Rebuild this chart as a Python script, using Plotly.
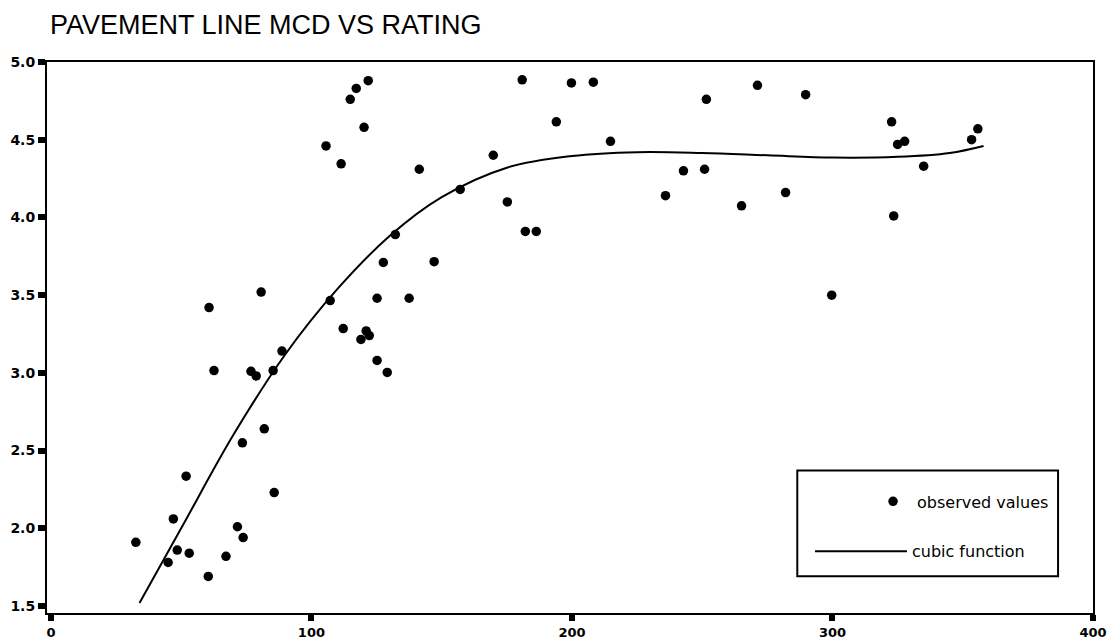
import plotly.graph_objects as go

# Observed pavement line MCD readings and their ratings
mcd = [32.6, 45.0, 47.0, 48.5, 53.1, 51.9, 60.4, 67.2, 71.6, 73.8, 73.5, 81.9, 85.7,
       60.7, 80.7, 62.6, 76.8, 78.8, 85.3, 88.7,
       107.2, 112.2, 121.0, 122.2, 119.0, 125.2, 129.1, 125.2, 127.6, 132.2, 147.1, 137.5,
       121.8, 117.2, 114.9, 120.2, 105.6, 111.4, 141.4, 180.9, 169.8, 157.1, 175.2, 182.1, 186.3,
       194.0, 199.8, 208.2, 214.8, 251.6, 242.8, 250.9, 235.9, 271.2, 265.1, 289.7, 282.0, 299.7,
       322.7, 325.0, 327.7, 323.5, 335.0, 355.8, 353.4]
rating = [1.91, 1.78, 2.06, 1.86, 1.84, 2.335, 1.69, 1.82, 2.01, 1.94, 2.55, 2.64, 2.23,
          3.42, 3.52, 3.015, 3.01, 2.98, 3.015, 3.14,
          3.465, 3.285, 3.27, 3.24, 3.215, 3.08, 3.003, 3.48, 3.71, 3.89, 3.715, 3.48,
          4.88, 4.83, 4.76, 4.58, 4.46, 4.345, 4.31, 4.885, 4.40, 4.18, 4.10, 3.91, 3.91,
          4.615, 4.865, 4.87, 4.49, 4.76, 4.30, 4.31, 4.14, 4.85, 4.075, 4.79, 4.16, 3.50,
          4.615, 4.47, 4.49, 4.01, 4.33, 4.57, 4.50]

# Fitted cubic curve, sampled along its length
fit_mcd = [34, 50, 70, 90, 110, 130, 150, 175, 200, 225, 250, 275, 300, 325, 345, 358]
fit_rating = [1.52, 2.00, 2.60, 3.12, 3.54, 3.88, 4.13, 4.32, 4.395, 4.42, 4.415, 4.40,
              4.385, 4.39, 4.415, 4.46]

x_ticks = [0, 100, 200, 300, 400]
y_ticks = [1.5, 2.0, 2.5, 3.0, 3.5, 4.0, 4.5, 5.0]

legend_font = dict(family="DejaVu Sans", size=16, color="black")

fig = go.Figure()

fig.add_trace(go.Scatter(
    x=fit_mcd, y=fit_rating, mode="lines", name="cubic function",
    line=dict(color="black", width=2, shape="spline", smoothing=1.0),
    legend="legend",
))
fig.add_trace(go.Scatter(
    x=mcd, y=rating, mode="markers", name="observed values",
    marker=dict(color="black", size=9.5, symbol="circle"),
    legend="legend2",
))

axis_common = dict(
    showline=True, linecolor="black", linewidth=2, mirror=True,
    showgrid=False, zeroline=False, automargin=False,
    ticks="outside", tickwidth=6, tickcolor="black",
    ticklabeloverflow="allow",
)

fig.update_layout(
    width=1107, height=640,
    margin=dict(l=47, r=14, t=62, b=27, autoexpand=False),
    paper_bgcolor="white", plot_bgcolor="white",
    title=dict(
        text="PAVEMENT LINE MCD VS RATING",
        font=dict(family="Liberation Sans", size=27, color="black"),
        x=50 / 1107, xanchor="left", xref="container",
        y=1 - 25 / 640, yanchor="middle", yref="container",
    ),
    xaxis=dict(range=[-1.5, 400], tickvals=x_ticks, ticklen=6,
               tickfont=dict(family="DejaVu Sans", size=13, color="black", weight="bold"),
               **axis_common),
    yaxis=dict(range=[1.455, 5.0], tickvals=y_ticks, tickformat=".1f", ticklen=7,
               tickfont=dict(family="DejaVu Sans", size=14, color="black", weight="bold"),
               **axis_common),
    legend=dict(
        x=0.7294, xanchor="left", y=0.1121, yanchor="middle",
        bgcolor="rgba(0,0,0,0)", borderwidth=0, font=legend_font,
        itemwidth=92,
    ),
    legend2=dict(
        x=0.7859, xanchor="left", y=0.2025, yanchor="middle",
        bgcolor="rgba(0,0,0,0)", borderwidth=0, font=legend_font,
        itemwidth=38,
    ),
    shapes=[dict(
        type="rect", xref="paper", yref="paper",
        x0=0.7173, x1=0.9666, y0=0.0669, y1=0.2586,
        line=dict(color="black", width=2), fillcolor="rgba(0,0,0,0)",
    )],
    showlegend=True,
)

fig.write_html("out.html")
